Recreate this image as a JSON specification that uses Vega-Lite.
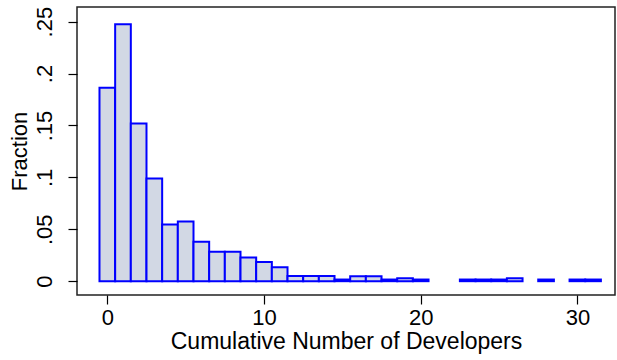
{
  "$schema": "https://vega.github.io/schema/vega-lite/v6.json",
  "width": 538,
  "height": 288,
  "autosize": "none",
  "padding": {"left": 77, "top": 7, "right": 2, "bottom": 65},
  "background": "white",
  "config": {
    "view": {"stroke": "#222", "strokeWidth": 1.5},
    "font": "Liberation Sans"
  },
  "data": {
    "values": [
      {"lo": -0.5, "hi": 0.5, "fraction": 0.1864},
      {"lo": 0.5, "hi": 1.5, "fraction": 0.2474},
      {"lo": 1.5, "hi": 2.5, "fraction": 0.152},
      {"lo": 2.5, "hi": 3.5, "fraction": 0.099},
      {"lo": 3.5, "hi": 4.5, "fraction": 0.0546},
      {"lo": 4.5, "hi": 5.5, "fraction": 0.0575},
      {"lo": 5.5, "hi": 6.5, "fraction": 0.0379},
      {"lo": 6.5, "hi": 7.5, "fraction": 0.0283},
      {"lo": 7.5, "hi": 8.5, "fraction": 0.0283},
      {"lo": 8.5, "hi": 9.5, "fraction": 0.0228},
      {"lo": 9.5, "hi": 10.5, "fraction": 0.0186},
      {"lo": 10.5, "hi": 11.5, "fraction": 0.0135},
      {"lo": 11.5, "hi": 12.5, "fraction": 0.0049},
      {"lo": 12.5, "hi": 13.5, "fraction": 0.0049},
      {"lo": 13.5, "hi": 14.5, "fraction": 0.0049},
      {"lo": 14.5, "hi": 15.5, "fraction": 0.0016},
      {"lo": 15.5, "hi": 16.5, "fraction": 0.0047},
      {"lo": 16.5, "hi": 17.5, "fraction": 0.0047},
      {"lo": 17.5, "hi": 18.5, "fraction": 0.0016},
      {"lo": 18.5, "hi": 19.5, "fraction": 0.0029},
      {"lo": 19.5, "hi": 20.5, "fraction": 0.0016},
      {"lo": 22.5, "hi": 23.5, "fraction": 0.0016},
      {"lo": 23.5, "hi": 24.5, "fraction": 0.0016},
      {"lo": 24.5, "hi": 25.5, "fraction": 0.0016},
      {"lo": 25.5, "hi": 26.5, "fraction": 0.0029},
      {"lo": 27.5, "hi": 28.5, "fraction": 0.0016},
      {"lo": 29.5, "hi": 30.5, "fraction": 0.0016},
      {"lo": 30.5, "hi": 31.5, "fraction": 0.0016}
    ]
  },
  "mark": {"type": "bar", "fill": "#d2d8e4", "stroke": "#0000ff", "strokeWidth": 2},
  "encoding": {
    "x": {
      "field": "lo", "type": "quantitative",
      "scale": {"domain": [-1.935, 32.4], "nice": false, "zero": false},
      "axis": {
        "title": "Cumulative Number of Developers",
        "values": [0, 10, 20, 30],
        "grid": false, "domain": false,
        "tickColor": "#000", "tickSize": 9, "tickWidth": 1.2,
        "labelFontSize": 22, "labelColor": "#000", "labelPadding": 3,
        "titleFontSize": 23, "titleFontWeight": "normal", "titleColor": "#000", "titlePadding": 2
      }
    },
    "x2": {"field": "hi"},
    "y": {
      "field": "fraction", "type": "quantitative",
      "scale": {"domain": [-0.0133, 0.2641], "nice": false, "zero": false},
      "axis": {
        "title": "Fraction",
        "values": [0, 0.05, 0.1, 0.15, 0.2, 0.25],
        "format": "~g",
        "labelExpr": "replace(datum.label, /^0\\./, '.')",
        "labelAngle": 270,
        "grid": false, "domain": false,
        "tickColor": "#000", "tickSize": 9, "tickWidth": 1.2,
        "labelFontSize": 22, "labelColor": "#000", "labelPadding": 12,
        "titleFontSize": 22, "titleFontWeight": "normal", "titleColor": "#000", "titlePadding": 2
      }
    },
    "y2": {"datum": 0}
  }
}
